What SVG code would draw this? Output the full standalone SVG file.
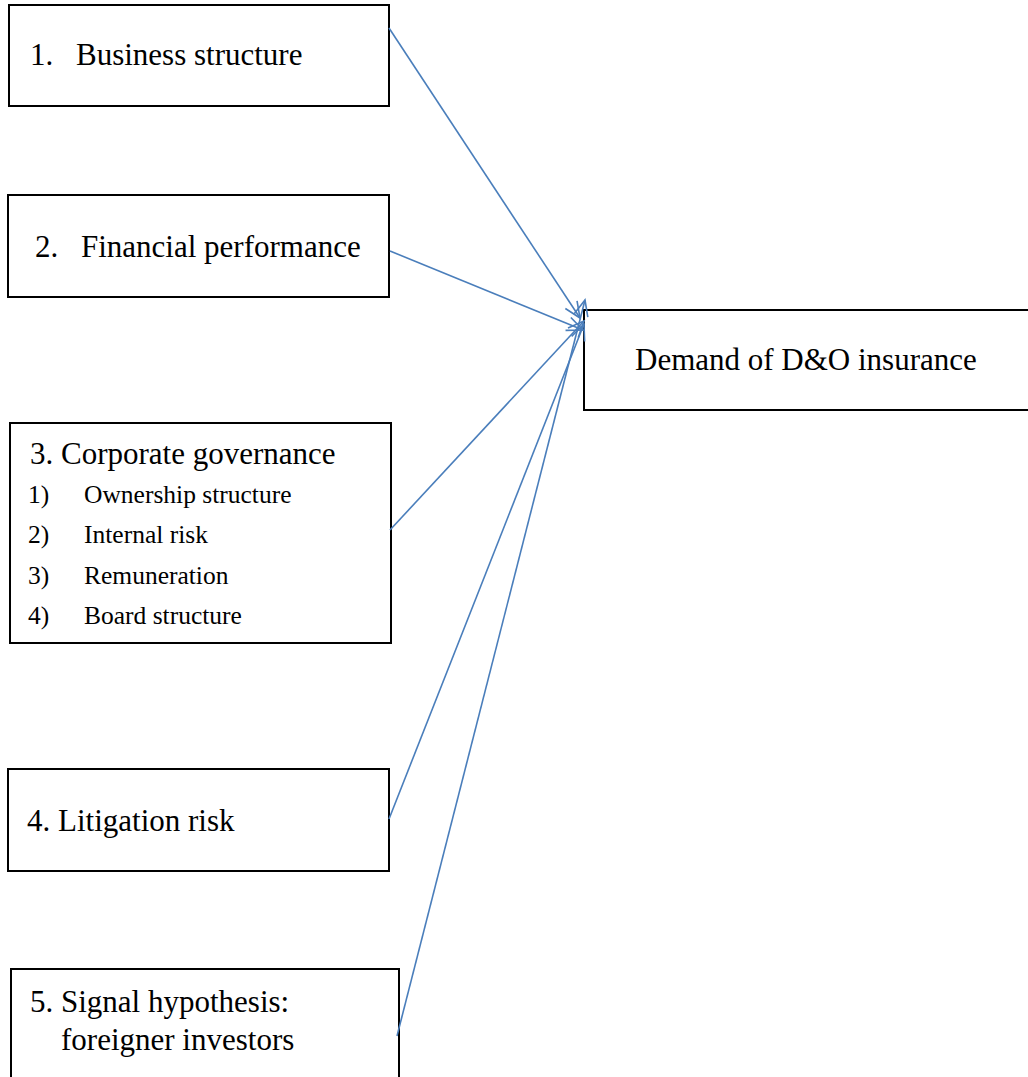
<svg xmlns="http://www.w3.org/2000/svg" width="1028" height="1077" viewBox="0 0 1028 1077">
<style>
.box{fill:#fff;stroke:#000;stroke-width:2}
.t{font-family:"Liberation Serif",serif;font-size:31px;fill:#000}
.s{font-family:"Liberation Serif",serif;font-size:25.5px;fill:#000}
.c{stroke:#4a7ebb;stroke-width:1.6;fill:none;marker-end:url(#ah)}
</style>
<defs>
<marker id="ah" markerUnits="userSpaceOnUse" markerWidth="24" markerHeight="24" refX="20" refY="12" orient="auto">
<polyline points="4,5 20,12 4,19" fill="none" stroke="#4a7ebb" stroke-width="1.6"/>
</marker>
</defs>
<rect width="1028" height="1077" fill="#fff"/>
<g id="n1"><rect class="box" x="9" y="5" width="380" height="101"/><text class="t" x="30" y="65">1.</text><text class="t" x="76" y="65">Business structure</text></g>
<g id="n2"><rect class="box" x="8" y="195" width="381" height="102"/><text class="t" x="35" y="257">2.</text><text class="t" x="81" y="257">Financial performance</text></g>
<g id="n3"><rect class="box" x="10" y="423" width="381" height="220"/><text class="t" x="30" y="464">3. Corporate governance</text>
<text class="s" x="28" y="503">1)</text><text class="s" x="84" y="503">Ownership structure</text>
<text class="s" x="28" y="543">2)</text><text class="s" x="84" y="543">Internal risk</text>
<text class="s" x="28" y="584">3)</text><text class="s" x="84" y="584">Remuneration</text>
<text class="s" x="28" y="624">4)</text><text class="s" x="84" y="624">Board structure</text></g>
<g id="n4"><rect class="box" x="8" y="769" width="381" height="102"/><text class="t" x="27" y="831">4. Litigation risk</text></g>
<g id="n5"><rect class="box" x="11" y="969" width="388" height="120"/><text class="t" x="30" y="1012">5. Signal hypothesis:</text><text class="t" x="61" y="1050">foreigner investors</text></g>
<g id="target"><rect class="box" x="584" y="310" width="460" height="100"/><text class="t" x="635" y="370">Demand of D&amp;O insurance</text></g>
<g id="connectors">
<line class="c" x1="389" y1="28" x2="580" y2="318"/>
<line class="c" x1="390" y1="251" x2="583" y2="330"/>
<line class="c" x1="390" y1="530" x2="584" y2="321"/>
<line class="c" x1="389" y1="819" x2="584" y2="324"/>
<line class="c" x1="397" y1="1036" x2="585" y2="300"/>
</g>
</svg>
